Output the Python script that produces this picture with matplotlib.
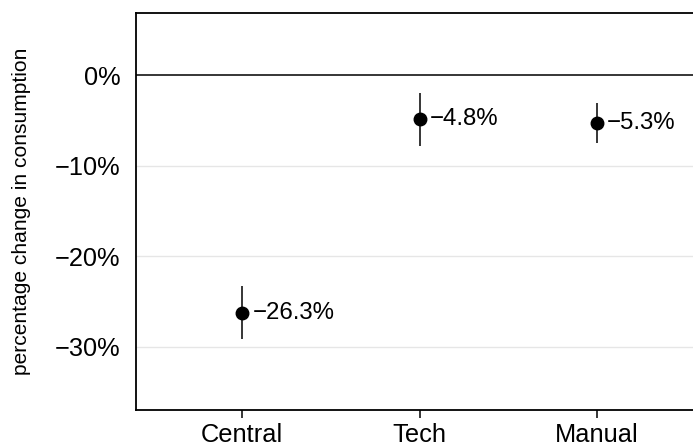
import matplotlib
matplotlib.use("Agg")
import matplotlib.pyplot as plt

plt.rcParams['font.family'] = ['Liberation Sans', 'DejaVu Sans']

groups = ["Central", "Tech", "Manual"]
estimate = [-26.3, -4.8, -5.3]
ci_low = [-29.1, -7.8, -7.5]
ci_high = [-23.3, -1.9, -3.0]
y_ticks = [0, -10, -20, -30]

W, H = 693, 445
fig = plt.figure(figsize=(W / 100, H / 100), dpi=100)
ax = fig.add_axes([136 / W, 1 - 410 / H, 1 - 136 / W, (410 - 13) / H])

xs = list(range(1, len(groups) + 1))

for t in y_ticks:
    if t == 0:
        ax.axhline(t, color="black", lw=1.1, zorder=1)
    else:
        ax.axhline(t, color="#e6e6e6", lw=1.0, zorder=0)

ax.vlines(xs, ci_low, ci_high, color="black", lw=1.1, zorder=2)
ax.plot(xs, estimate, "o", color="black", ms=9, zorder=3)

for x, v in zip(xs, estimate):
    ax.annotate(f"\u2212{abs(v):.1f}%", (x, v), xytext=(7.5, 0),
                textcoords="offset points", va="center", ha="left",
                fontsize=17.3, color="black")

ax.set_xlim(0.4, 3.543)
ax.set_ylim(-37.0, 6.9)
ax.set_xticks(xs)
ax.set_xticklabels(groups, fontsize=18.3)
ax.set_yticks(y_ticks)
ax.set_yticklabels([("\u2212" if t < 0 else "") + f"{abs(t)}%" for t in y_ticks],
                   fontsize=18.3)
ax.tick_params(axis="y", length=0, pad=11)
ax.tick_params(axis="x", length=6, width=1.1, pad=3)

for s in ["left", "bottom", "top"]:
    ax.spines[s].set_linewidth(1.3)
ax.spines["right"].set_visible(False)

ax.set_ylabel("percentage change in consumption", fontsize=15.1, labelpad=17)

fig.savefig("out.png", dpi=100)
